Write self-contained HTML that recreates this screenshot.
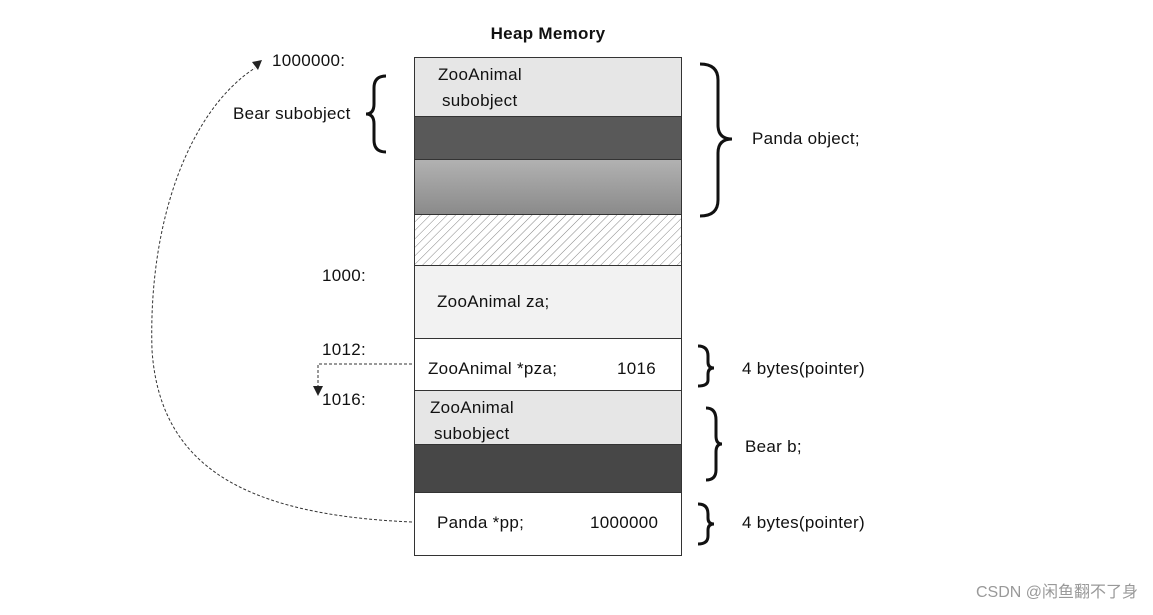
<!DOCTYPE html>
<html><head><style>
body{margin:0;background:#fff;}
svg text{font-family:"Liberation Sans",sans-serif;font-size:17px;fill:#111;letter-spacing:0.3px;}
</style></head><body>
<svg width="1153" height="610" xmlns="http://www.w3.org/2000/svg">
<defs>
<linearGradient id="g" x1="0" y1="0" x2="0" y2="1"><stop offset="0" stop-color="#b2b2b2"/><stop offset="1" stop-color="#8a8a8a"/></linearGradient>
<pattern id="h" width="6" height="6" patternUnits="userSpaceOnUse" patternTransform="rotate(45)"><line x1="0" y1="0" x2="0" y2="6" stroke="#666" stroke-width="0.8"/></pattern>
</defs>
<text x="548" y="39" text-anchor="middle" style="font-weight:bold">Heap Memory</text>
<g stroke="#333" stroke-width="1">
<rect x="414.5" y="57.5" width="267" height="59" fill="#e6e6e6"/>
<rect x="414.5" y="116.5" width="267" height="43" fill="#595959"/>
<rect x="414.5" y="159.5" width="267" height="55" fill="url(#g)"/>
<rect x="414.5" y="214.5" width="267" height="51" fill="#fff"/>
<rect x="414.5" y="214.5" width="267" height="51" fill="url(#h)"/>
<rect x="414.5" y="265.5" width="267" height="73" fill="#f2f2f2"/>
<rect x="414.5" y="338.5" width="267" height="52" fill="#fff"/>
<rect x="414.5" y="390.5" width="267" height="54" fill="#e6e6e6"/>
<rect x="414.5" y="444.5" width="267" height="48" fill="#474747"/>
<rect x="414.5" y="492.5" width="267" height="63" fill="#fff"/>
</g>
<text x="438" y="80">ZooAnimal</text><text x="442" y="106">subobject</text>
<text x="437" y="307">ZooAnimal za;</text>
<text x="428" y="374">ZooAnimal *pza;</text><text x="617" y="374">1016</text>
<text x="430" y="413">ZooAnimal</text><text x="434" y="439">subobject</text>
<text x="437" y="528">Panda *pp;</text><text x="590" y="528">1000000</text>
<text x="272" y="66">1000000:</text>
<text x="233" y="119">Bear subobject</text>
<text x="322" y="281">1000:</text>
<text x="322" y="355">1012:</text>
<text x="322" y="405">1016:</text>
<text x="752" y="144">Panda object;</text>
<text x="742" y="374">4 bytes(pointer)</text>
<text x="745" y="452">Bear b;</text>
<text x="742" y="528">4 bytes(pointer)</text>
<g fill="none" stroke="#111" stroke-width="3">
<path d="M700,64 Q718,64 718,80 L718,125 Q718,139 732,139 Q718,139 718,153 L718,200 Q718,216 700,216"/>
<path d="M386,76 Q374,76 374,88 L374,104 Q374,114 366,114 Q374,114 374,124 L374,140 Q374,152 386,152"/>
<path d="M698,346 Q708,346 708,356 L708,362 Q708,368 714,368 Q708,368 708,374 L708,380 Q708,386 698,386"/>
<path d="M706,408 Q716,408 716,420 L716,436 Q716,444 722,444 Q716,444 716,452 L716,470 Q716,480 706,480"/>
<path d="M698,504 Q708,504 708,514 L708,518 Q708,524 714,524 Q708,524 708,530 L708,536 Q708,544 698,544"/>
</g>
<g fill="none" stroke="#333" stroke-width="1" stroke-dasharray="3,2">
<path d="M412,364 L318,364 L318,386"/>
<path d="M412,522 C250,515 160,470 152,350 C148,220 190,110 255,68"/>
</g>
<path d="M313,386 L323,386 L318,396Z" fill="#222"/>
<path d="M252,62 L262,60 L258,70Z" fill="#222"/>
<text x="1138" y="597" text-anchor="end" style="font-size:16px;fill:#999;letter-spacing:0;font-family:'Liberation Sans','Noto Sans CJK SC',sans-serif">CSDN @闲鱼翻不了身</text>
</svg>
</body></html>
